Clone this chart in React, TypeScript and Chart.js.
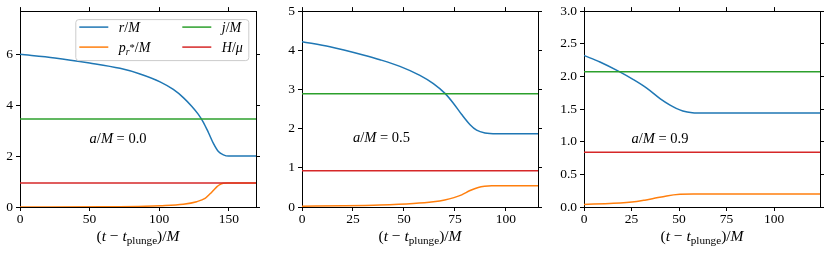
import React, { useEffect, useRef } from "react";
import { Chart, registerables } from "chart.js";
Chart.register(...registerables);

// ---------- data ----------
const seriesLabels = ["r/M", "p_r*/M", "j/M", "H/μ"];
const spinLabels = ["0.0", "0.5", "0.9"];

// panel a/M = 0.0
const tA_r = [0, 25, 50, 71.8, 86.2, 100.6, 110.1, 117.3, 123.3, 128.1, 131.7, 135.3, 138.9, 142.5, 146.1, 149.7, 169.5];
const rA = [6.0, 5.86, 5.66, 5.45, 5.23, 4.92, 4.62, 4.3, 3.96, 3.64, 3.33, 2.93, 2.5, 2.18, 2.05, 2.0, 2.0];
const tA_p = [0, 60, 90, 100.6, 117.3, 126.9, 132.9, 136.5, 139, 141.5, 143.5, 146, 149, 169.5];
const pA = [0.0, 0.01, 0.03, 0.05, 0.11, 0.21, 0.34, 0.52, 0.66, 0.8, 0.88, 0.93, 0.943, 0.943];
const jA = 3.46;
const HA = 0.943;

// panel a/M = 0.5
const tB_r = [0, 13.7, 30, 38.2, 48, 57.8, 64.4, 70.1, 74.2, 78.3, 82.4, 85.6, 89.7, 95.4, 115.7];
const rB = [4.22, 4.09, 3.88, 3.76, 3.59, 3.36, 3.15, 2.9, 2.65, 2.36, 2.1, 1.96, 1.89, 1.87, 1.87];
const tB_p = [0, 20, 38.2, 54.6, 64.4, 70, 74.5, 78.3, 82.4, 86.4, 89.5, 93, 115.7];
const pB = [0.02, 0.03, 0.05, 0.09, 0.135, 0.18, 0.24, 0.31, 0.42, 0.5, 0.53, 0.54, 0.54];
const jB = 2.89;
const HB = 0.925;

// panel a/M = 0.9
const tC_r = [0, 8.4, 18.1, 26, 33, 40, 45.3, 48.5, 52, 57, 63, 124.2];
const rC = [2.32, 2.22, 2.08, 1.95, 1.82, 1.66, 1.56, 1.51, 1.47, 1.445, 1.44, 1.44];
const tC_p = [0, 15.4, 27.7, 32, 36.5, 43.5, 50.5, 57.5, 124.2];
const pC = [0.04, 0.056, 0.085, 0.105, 0.13, 0.17, 0.194, 0.2, 0.2];
const jC = 2.07;
const HC = 0.84;

// axes
const xMaxA = 169.5, xMaxB = 115.7, xMaxC = 124.2;
const yMaxA = 7.7, yMaxB = 5, yMaxC = 3;
const xTicksA = [0, 50, 100, 150];
const xTicksB = [0, 25, 50, 75, 100];
const xTicksC = [0, 25, 50, 75, 100];
const yTicksA = [0, 2, 4, 6];
const yTicksB = [0, 1, 2, 3, 4, 5];
const yTicksC = [0, 0.5, 1.0, 1.5, 2.0, 2.5, 3.0];

// annotation anchor (data coords)
const noteX = [50, 25, 25];
const noteY = [2.53, 1.67, 0.98];

// ---------- style ----------
const W = 830, H = 253;
const FONT = '"Liberation Serif", "Times New Roman", serif';
const COLORS = ["#1f77b4", "#ff7f0e", "#2ca02c", "#d62728"];

type Seg = { t: string; it?: boolean; sc?: number; dy?: number };

function drawSegs(ctx: CanvasRenderingContext2D, segs: Seg[], x: number, y: number, size: number, align: "left" | "center") {
  const fontFor = (s: Seg) => `${s.it ? "italic " : ""}${size * (s.sc ?? 1)}px ${FONT}`;
  let total = 0;
  for (const s of segs) { ctx.font = fontFor(s); total += ctx.measureText(s.t).width; }
  let cx = align === "center" ? x - total / 2 : x;
  ctx.textBaseline = "alphabetic";
  ctx.textAlign = "left";
  ctx.fillStyle = "#000";
  for (const s of segs) {
    ctx.font = fontFor(s);
    ctx.fillText(s.t, cx, y + (s.dy ?? 0));
    cx += ctx.measureText(s.t).width;
  }
}

const legendSegs: Seg[][] = [
  [{ t: "r", it: true }, { t: "/" }, { t: "M", it: true }],
  [{ t: "p", it: true }, { t: "r", it: true, sc: 0.7, dy: 3 }, { t: "*", sc: 0.75, dy: -1 }, { t: "/" }, { t: "M", it: true }],
  [{ t: "j", it: true }, { t: "/" }, { t: "M", it: true }],
  [{ t: "H", it: true }, { t: "/" }, { t: "μ", it: true }],
];

const titleSegs: Seg[] = [
  { t: "(" }, { t: "t", it: true }, { t: " − " }, { t: "t", it: true },
  { t: "plunge", sc: 0.72, dy: 3 }, { t: ")" }, { t: "/" }, { t: "M", it: true },
];

type Panel = {
  left: number; yW: number; xMax: number; yMax: number;
  xTicks: number[]; yTicks: number[]; dec: number;
  tr: number[]; r: number[]; tp: number[]; p: number[]; j: number; h: number;
  idx: number; legend: boolean;
};

const PLOT_W = 236, PLOT_TOP = 11, PLOT_BOTTOM = 207;

const panels: Panel[] = [
  { left: 20, yW: 20, xMax: xMaxA, yMax: yMaxA, xTicks: xTicksA, yTicks: yTicksA, dec: 0, tr: tA_r, r: rA, tp: tA_p, p: pA, j: jA, h: HA, idx: 0, legend: true },
  { left: 302, yW: 34, xMax: xMaxB, yMax: yMaxB, xTicks: xTicksB, yTicks: yTicksB, dec: 0, tr: tB_r, r: rB, tp: tB_p, p: pB, j: jB, h: HB, idx: 1, legend: false },
  { left: 584, yW: 34, xMax: xMaxC, yMax: yMaxC, xTicks: xTicksC, yTicks: yTicksC, dec: 1, tr: tC_r, r: rC, tp: tC_p, p: pC, j: jC, h: HC, idx: 2, legend: false },
];

function makeConfig(P: Panel): any {
  const zip = (xs: number[], ys: number[]) => xs.map((x, i) => ({ x, y: ys[i] }));
  const flat = (v: number) => [{ x: 0, y: v }, { x: P.xMax, y: v }];
  const ds = (data: any, color: string, order: number) => ({
    data, borderColor: color, borderWidth: 1.5, pointRadius: 0, fill: false,
    cubicInterpolationMode: "monotone", order,
  });
  const tickFont = { family: FONT, size: 13.5 };
  const grid = { drawOnChartArea: false, drawTicks: true, tickLength: 4, color: "#000", lineWidth: 1 };
  const border = { display: true, color: "#000", width: 1 };
  const setTicks = (vals: number[]) => (ax: any) => { ax.ticks = vals.map((v) => ({ value: v })); };

  const yLeftW = P.yW, yRightW = 10, xBottomH = 40, xTopH = 8;

  const plugin = {
    id: "extras" + P.idx,
    afterDraw(chart: any) {
      const ctx: CanvasRenderingContext2D = chart.ctx;
      const ca = chart.chartArea;
      const xs = chart.scales.x, ys = chart.scales.y;
      ctx.save();
      // annotation
      drawSegs(ctx, [{ t: "a", it: true }, { t: "/" }, { t: "M", it: true }, { t: " = " + spinLabels[P.idx] }],
        xs.getPixelForValue(noteX[P.idx]), ys.getPixelForValue(noteY[P.idx]), 14.5, "left");
      // x title
      drawSegs(ctx, titleSegs, (ca.left + ca.right) / 2, 240.5, 15.5, "center");
      // legend
      if (P.legend) {
        const bw = 173, bh = 41;
        const bx = ca.right - 7.7 - bw, by = ca.top + 8;
        ctx.beginPath();
        (ctx as any).roundRect(bx + 0.5, by + 0.5, bw, bh, 3);
        ctx.fillStyle = "rgba(255,255,255,0.8)";
        ctx.fill();
        ctx.strokeStyle = "#cccccc";
        ctx.lineWidth = 1;
        ctx.stroke();
        const cols = [bx + 4, bx + 107];
        const rows = [by + 8, by + 28];
        for (let k = 0; k < 4; k++) {
          const cx = cols[Math.floor(k / 2)];
          const cy = rows[k % 2];
          ctx.beginPath();
          ctx.moveTo(cx, cy);
          ctx.lineTo(cx + 29, cy);
          ctx.strokeStyle = COLORS[k];
          ctx.lineWidth = 1.5;
          ctx.stroke();
          drawSegs(ctx, legendSegs[k], cx + 39.5, cy + 5, 14, "left");
        }
      }
      ctx.restore();
    },
  };

  return {
    type: "line",
    data: {
      datasets: [
        { ...ds(zip(P.tr, P.r), COLORS[0], 3), label: seriesLabels[0] },
        { ...ds(zip(P.tp, P.p), COLORS[1], 2), label: seriesLabels[1] },
        { ...ds(flat(P.j), COLORS[2], 1), label: seriesLabels[2] },
        { ...ds(flat(P.h), COLORS[3], 0), label: seriesLabels[3] },
      ],
    },
    options: {
      animation: false,
      responsive: false,
      devicePixelRatio: 1,
      events: [],
      layout: {
        padding: {
          left: P.left - yLeftW,
          right: W - (P.left + PLOT_W) - yRightW,
          top: PLOT_TOP - xTopH,
          bottom: H - PLOT_BOTTOM - xBottomH,
        },
      },
      plugins: { legend: { display: false }, tooltip: { enabled: false } },
      scales: {
        x: {
          type: "linear", position: "bottom", min: 0, max: P.xMax,
          afterBuildTicks: setTicks(P.xTicks),
          ticks: { color: "#000", font: tickFont, padding: 0, maxRotation: 0, autoSkip: false, callback: (v: number) => String(v) },
          grid, border,
          afterFit: (s: any) => { s.height = xBottomH; },
        },
        x2: {
          type: "linear", position: "top", min: 0, max: P.xMax,
          afterBuildTicks: setTicks(P.xTicks),
          ticks: { display: false, autoSkip: false },
          grid, border,
          afterFit: (s: any) => { s.height = xTopH; },
        },
        y: {
          type: "linear", position: "left", min: 0, max: P.yMax,
          afterBuildTicks: setTicks(P.yTicks),
          ticks: { color: "#000", font: tickFont, padding: 3, autoSkip: false, callback: (v: number) => v.toFixed(P.dec) },
          grid, border,
          afterFit: (s: any) => { s.width = yLeftW; },
        },
        y2: {
          type: "linear", position: "right", min: 0, max: P.yMax,
          afterBuildTicks: setTicks(P.yTicks),
          ticks: { display: false, autoSkip: false },
          grid, border,
          afterFit: (s: any) => { s.width = yRightW; },
        },
      },
    },
    plugins: [plugin],
  };
}

function PanelCanvas({ P }: { P: Panel }) {
  const ref = useRef<HTMLCanvasElement | null>(null);
  useEffect(() => {
    if (!ref.current) return;
    const chart = new Chart(ref.current, makeConfig(P));
    return () => chart.destroy();
  }, [P]);
  return (
    <canvas
      ref={ref}
      width={W}
      height={H}
      style={{ position: "absolute", left: 0, top: 0, width: W, height: H, display: "block" }}
    />
  );
}

export default function App() {
  return (
    <div style={{ position: "absolute", left: 0, top: 0, width: W, height: H, background: "#fff", overflow: "hidden" }}>
      {panels.map((P) => (
        <PanelCanvas key={P.idx} P={P} />
      ))}
    </div>
  );
}
